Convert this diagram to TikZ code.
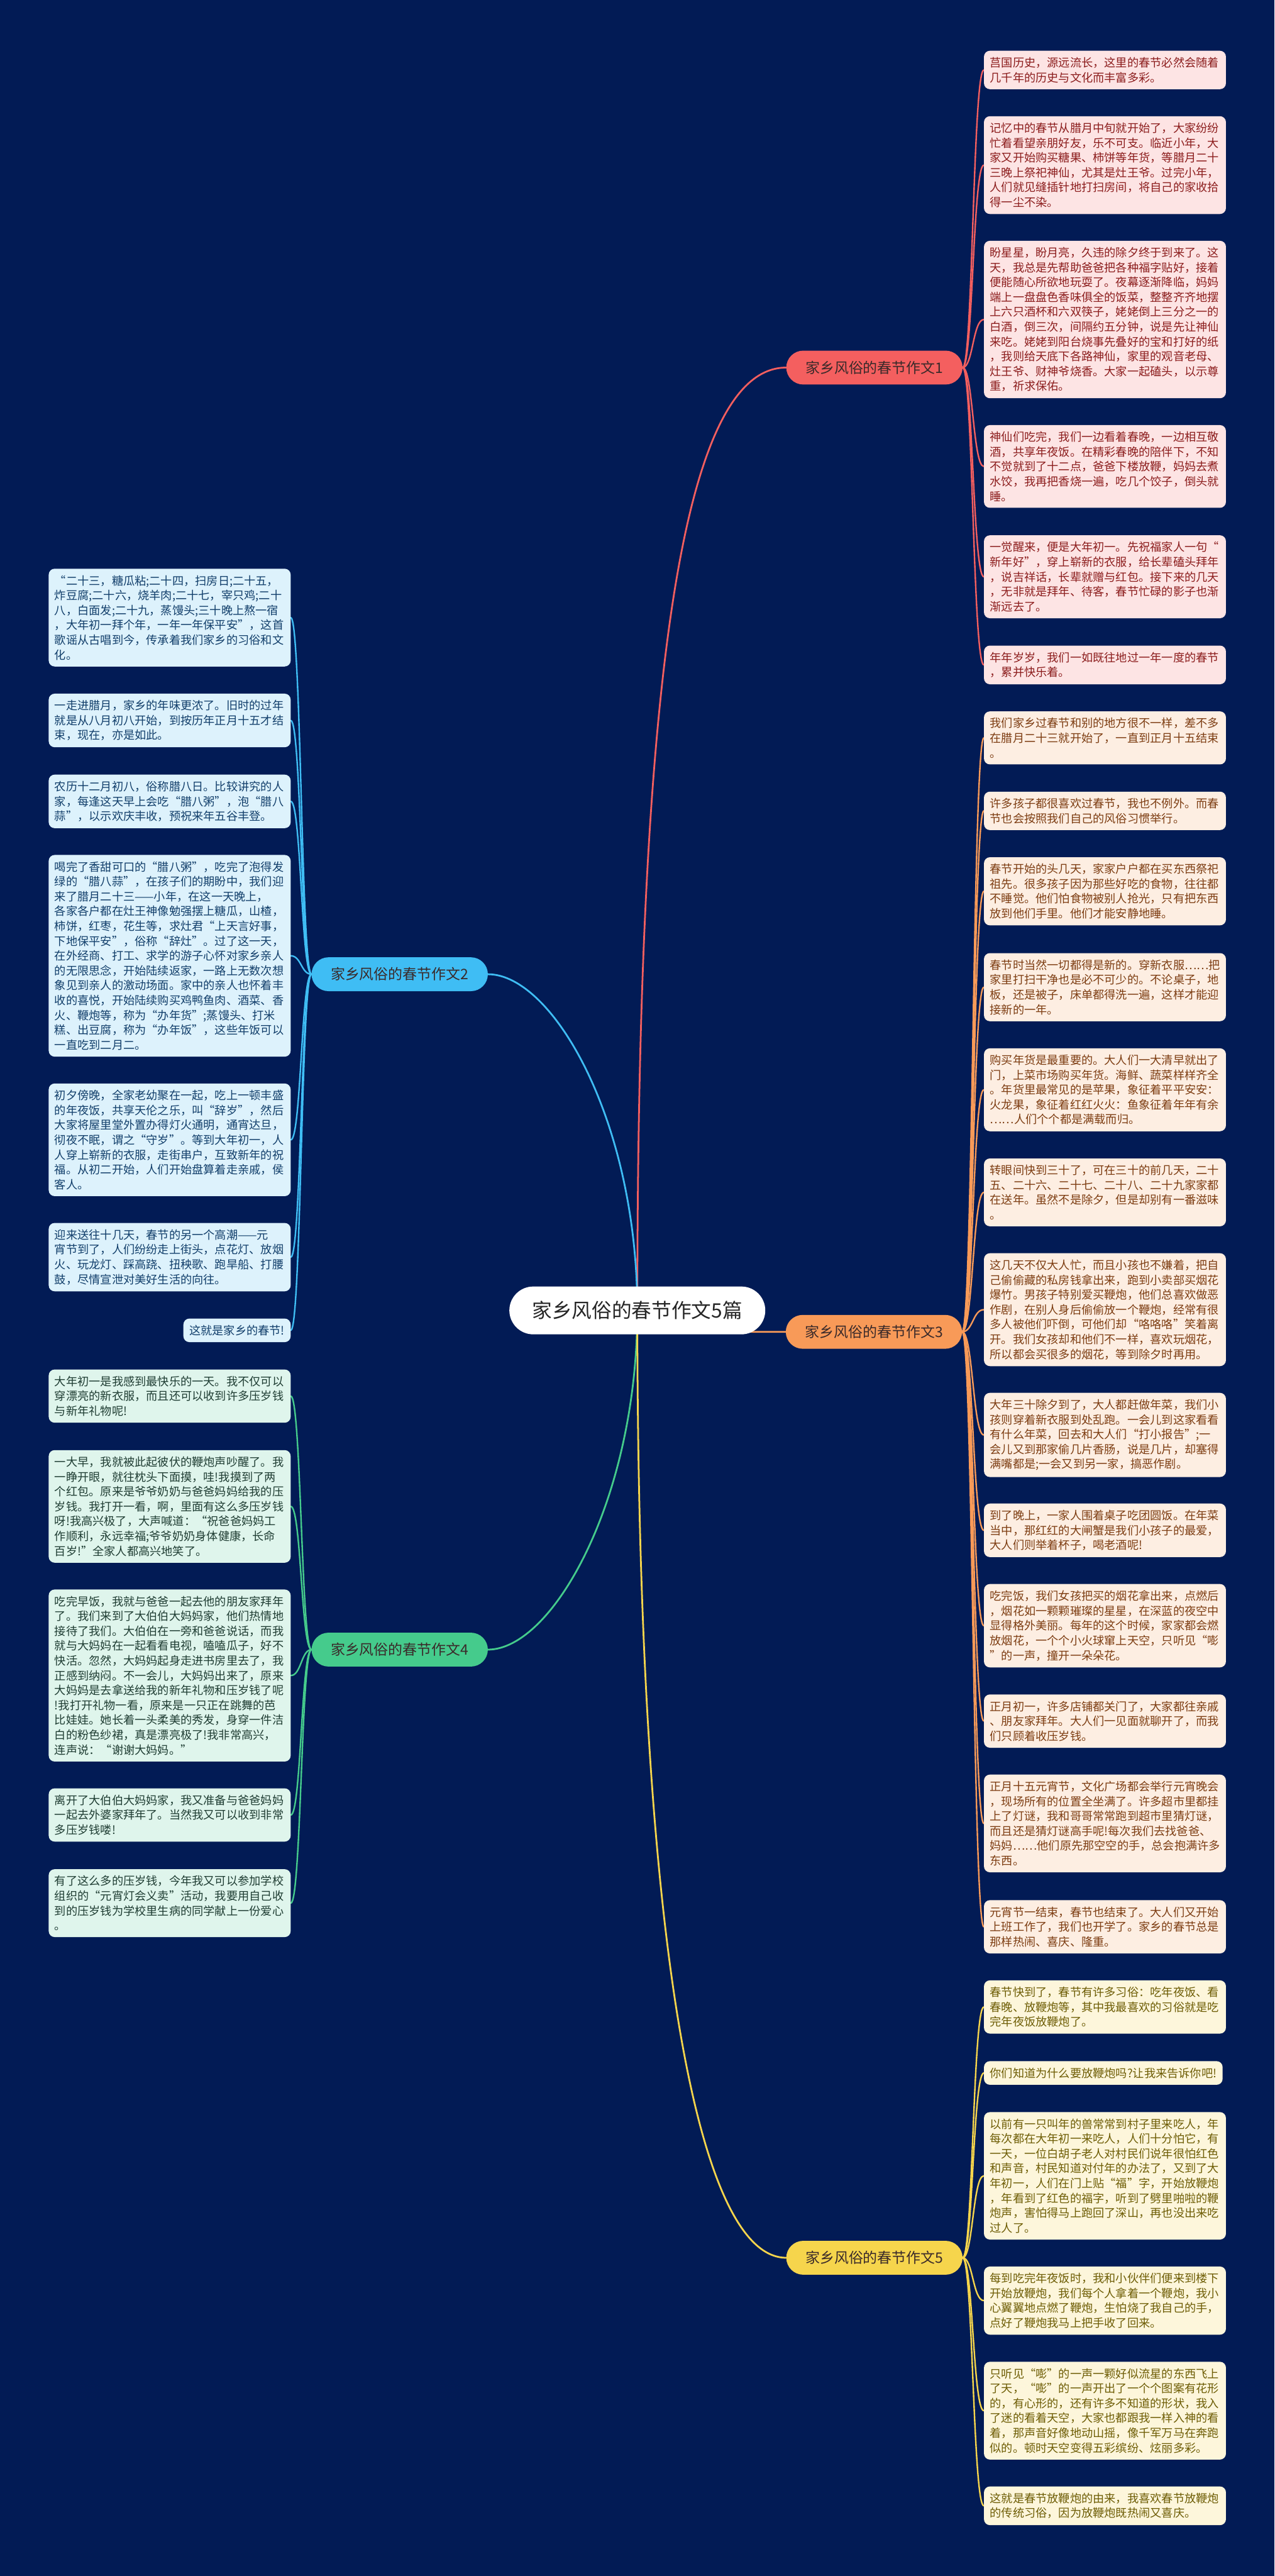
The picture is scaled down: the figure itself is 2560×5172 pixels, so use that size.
\documentclass[tikz,border=0pt]{standalone}
\usepackage{fontspec}
\setmainfont{Noto Sans CJK SC}
\usepackage{tikz}
\usetikzlibrary{positioning}
\pgfdeclarelayer{bg}
\pgfdeclarelayer{edges}
\pgfsetlayers{bg,edges,main}
\definecolor{bgnavy}{HTML}{021B55}
\definecolor{mapred}{HTML}{F45F5F}
\definecolor{mapblue}{HTML}{3FBDF4}
\definecolor{maporange}{HTML}{F89A58}
\definecolor{mapgreen}{HTML}{45CB8C}
\definecolor{mapyellow}{HTML}{F6D54C}
\definecolor{leafred}{HTML}{FDE4E4}
\definecolor{leafblue}{HTML}{DDF2FC}
\definecolor{leaforange}{HTML}{FDEEE2}
\definecolor{leafgreen}{HTML}{DFF5EC}
\definecolor{leafyellow}{HTML}{FDF6DB}
\definecolor{inkred}{HTML}{8C1D1D}
\definecolor{inkblue}{HTML}{123F6B}
\definecolor{inkorange}{HTML}{7D3D12}
\definecolor{inkgreen}{HTML}{1F3D33}
\definecolor{inkyellow}{HTML}{6E5D05}
\definecolor{inktopic}{HTML}{3A2A2A}
\tikzset{%
	root/.style={
		fill=white,
		rounded corners=48pt,
		minimum width=514pt,
		minimum height=96pt,
		text=black!85,
		font=\fontsize{40}{46}\selectfont
	},
	topic/.style={
		rounded corners=34pt,
		minimum width=354pt,
		minimum height=68pt,
		text=inktopic,
		font=\fontsize{29}{34}\selectfont
	},
	topic-red/.style={ fill=mapred },
	topic-blue/.style={ fill=mapblue },
	topic-orange/.style={ fill=maporange },
	topic-green/.style={ fill=mapgreen },
	topic-yellow/.style={ fill=mapyellow },
	leaf/.style={
		rounded corners=12pt,
		text width=462pt,
		align=left,
		inner xsep=12pt,
		inner ysep=13pt,
		font=\fontsize{23}{29.8}\selectfont
	},
	leaf-red/.style={ fill=leafred, text=inkred },
	leaf-blue/.style={ fill=leafblue, text=inkblue },
	leaf-orange/.style={ fill=leaforange, text=inkorange },
	leaf-green/.style={ fill=leafgreen, text=inkgreen },
	leaf-yellow/.style={ fill=leafyellow, text=inkyellow },
	link/.style={ line width=3.5pt, line cap=round },
	twig/.style={ line width=3pt, line cap=round },
}
\begin{document}
\begin{tikzpicture}[x=1pt, y=-1pt]
\begin{pgfonlayer}{bg}
\fill[bgnavy] (0,0) rectangle (2560,5172);
\end{pgfonlayer}

% root and topics
\node[root] (root) at (1280,2631) {家乡风俗的春节作文5篇};
\node[topic, topic-red, anchor=west] (topic1) at (1579,738) {家乡风俗的春节作文1};
\node[topic, topic-blue, anchor=east] (topic2) at (980,1956) {家乡风俗的春节作文2};
\node[topic, topic-orange, anchor=west] (topic3) at (1578,2674) {家乡风俗的春节作文3};
\node[topic, topic-green, anchor=east] (topic4) at (980,3312) {家乡风俗的春节作文4};
\node[topic, topic-yellow, anchor=west] (topic5) at (1579,4533) {家乡风俗的春节作文5};

% essay 1
\node[leaf, leaf-red, anchor=west] (essay1-1) at (1976,140.5) {莒国历史，源远流长，这里的春节必然会随着\\几千年的历史与文化而丰富多彩。};
\node[leaf, leaf-red, anchor=west] (essay1-2) at (1976,331.5) {记忆中的春节从腊月中旬就开始了，大家纷纷\\忙着看望亲朋好友，乐不可支。临近小年，大\\家又开始购买糖果、柿饼等年货，等腊月二十\\三晚上祭祀神仙，尤其是灶王爷。过完小年，\\人们就见缝插针地打扫房间，将自己的家收拾\\得一尘不染。};
\node[leaf, leaf-red, anchor=west] (essay1-3) at (1976,641.5) {盼星星，盼月亮，久违的除夕终于到来了。这\\天，我总是先帮助爸爸把各种福字贴好，接着\\便能随心所欲地玩耍了。夜幕逐渐降临，妈妈\\端上一盘盘色香味俱全的饭菜，整整齐齐地摆\\上六只酒杯和六双筷子，姥姥倒上三分之一的\\白酒，倒三次，间隔约五分钟，说是先让神仙\\来吃。姥姥到阳台烧事先叠好的宝和打好的纸\\，我则给天底下各路神仙，家里的观音老母、\\灶王爷、财神爷烧香。大家一起磕头，以示尊\\重，祈求保佑。};
\node[leaf, leaf-red, anchor=west] (essay1-4) at (1976,936.5) {神仙们吃完，我们一边看着春晚，一边相互敬\\酒，共享年夜饭。在精彩春晚的陪伴下，不知\\不觉就到了十二点，爸爸下楼放鞭，妈妈去煮\\水饺，我再把香烧一遍，吃几个饺子，倒头就\\睡。};
\node[leaf, leaf-red, anchor=west] (essay1-5) at (1976,1158) {一觉醒来，便是大年初一。先祝福家人一句“\\新年好”，穿上崭新的衣服，给长辈磕头拜年\\，说吉祥话，长辈就赠与红包。接下来的几天\\，无非就是拜年、待客，春节忙碌的影子也渐\\渐远去了。};
\node[leaf, leaf-red, anchor=west] (essay1-6) at (1976,1335) {年年岁岁，我们一如既往地过一年一度的春节\\，累并快乐着。};

% essay 2
\node[leaf, leaf-blue, anchor=east] (essay2-1) at (584,1240) {“二十三，糖瓜粘;二十四，扫房日;二十五，\\炸豆腐;二十六，烧羊肉;二十七，宰只鸡;二十\\八，白面发;二十九，蒸馒头;三十晚上熬一宿\\，大年初一拜个年，一年一年保平安”，这首\\歌谣从古唱到今，传承着我们家乡的习俗和文\\化。};
\node[leaf, leaf-blue, anchor=east] (essay2-2) at (584,1446.5) {一走进腊月，家乡的年味更浓了。旧时的过年\\就是从八月初八开始，到按历年正月十五才结\\束，现在，亦是如此。};
\node[leaf, leaf-blue, anchor=east] (essay2-3) at (584,1609) {农历十二月初八，俗称腊八日。比较讲究的人\\家，每逢这天早上会吃“腊八粥”，泡“腊八\\蒜”，以示欢庆丰收，预祝来年五谷丰登。};
\node[leaf, leaf-blue, anchor=east] (essay2-4) at (584,1919) {喝完了香甜可口的“腊八粥”，吃完了泡得发\\绿的“腊八蒜”，在孩子们的期盼中，我们迎\\来了腊月二十三——小年，在这一天晚上，\\各家各户都在灶王神像勉强摆上糖瓜，山楂，\\柿饼，红枣，花生等，求灶君“上天言好事，\\下地保平安”，俗称“辞灶”。过了这一天，\\在外经商、打工、求学的游子心怀对家乡亲人\\的无限思念，开始陆续返家，一路上无数次想\\象见到亲人的激动场面。家中的亲人也怀着丰\\收的喜悦，开始陆续购买鸡鸭鱼肉、酒菜、香\\火、鞭炮等，称为“办年货”;蒸馒头、打米\\糕、出豆腐，称为“办年饭”，这些年饭可以\\一直吃到二月二。};
\node[leaf, leaf-blue, anchor=east] (essay2-5) at (584,2288.5) {初夕傍晚，全家老幼聚在一起，吃上一顿丰盛\\的年夜饭，共享天伦之乐，叫“辞岁”，然后\\大家将屋里堂外置办得灯火通明，通宵达旦，\\彻夜不眠，谓之“守岁”。等到大年初一，人\\人穿上崭新的衣服，走街串户，互致新年的祝\\福。从初二开始，人们开始盘算着走亲戚，侯\\客人。};
\node[leaf, leaf-blue, anchor=east] (essay2-6) at (584,2524) {迎来送往十几天，春节的另一个高潮——元\\宵节到了，人们纷纷走上街头，点花灯、放烟\\火、玩龙灯、踩高跷、扭秧歌、跑旱船、打腰\\鼓，尽情宣泄对美好生活的向往。};
\node[leaf, leaf-blue, text width=, anchor=east] (essay2-7) at (584,2671) {这就是家乡的春节!};

% essay 3
\node[leaf, leaf-orange, anchor=west] (essay3-1) at (1976,1481.5) {我们家乡过春节和别的地方很不一样，差不多\\在腊月二十三就开始了，一直到正月十五结束\\。};
\node[leaf, leaf-orange, anchor=west] (essay3-2) at (1976,1628) {许多孩子都很喜欢过春节，我也不例外。而春\\节也会按照我们自己的风俗习惯举行。};
\node[leaf, leaf-orange, anchor=west] (essay3-3) at (1976,1789.5) {春节开始的头几天，家家户户都在买东西祭祀\\祖先。很多孩子因为那些好吃的食物，往往都\\不睡觉。他们怕食物被别人抢光，只有把东西\\放到他们手里。他们才能安静地睡。};
\node[leaf, leaf-orange, anchor=west] (essay3-4) at (1976,1982) {春节时当然一切都得是新的。穿新衣服……把\\家里打扫干净也是必不可少的。不论桌子，地\\板，还是被子，床单都得洗一遍，这样才能迎\\接新的一年。};
\node[leaf, leaf-orange, anchor=west] (essay3-5) at (1976,2188) {购买年货是最重要的。大人们一大清早就出了\\门，上菜市场购买年货。海鲜、蔬菜样样齐全\\。年货里最常见的是苹果，象征着平平安安：\\火龙果，象征着红红火火：鱼象征着年年有余\\……人们个个都是满载而归。};
\node[leaf, leaf-orange, anchor=west] (essay3-6) at (1976,2394) {转眼间快到三十了，可在三十的前几天，二十\\五、二十六、二十七、二十八、二十九家家都\\在送年。虽然不是除夕，但是却别有一番滋味\\。};
\node[leaf, leaf-orange, anchor=west] (essay3-7) at (1976,2629.5) {这几天不仅大人忙，而且小孩也不嫌着，把自\\己偷偷藏的私房钱拿出来，跑到小卖部买烟花\\爆竹。男孩子特别爱买鞭炮，他们总喜欢做恶\\作剧，在别人身后偷偷放一个鞭炮，经常有很\\多人被他们吓倒，可他们却“咯咯咯”笑着离\\开。我们女孩却和他们不一样，喜欢玩烟花，\\所以都会买很多的烟花，等到除夕时再用。};
\node[leaf, leaf-orange, anchor=west] (essay3-8) at (1976,2881) {大年三十除夕到了，大人都赶做年菜，我们小\\孩则穿着新衣服到处乱跑。一会儿到这家看看\\有什么年菜，回去和大人们“打小报告”;一\\会儿又到那家偷几片香肠，说是几片，却塞得\\满嘴都是;一会又到另一家，搞恶作剧。};
\node[leaf, leaf-orange, anchor=west] (essay3-9) at (1976,3072.5) {到了晚上，一家人围着桌子吃团圆饭。在年菜\\当中，那红红的大闸蟹是我们小孩子的最爱，\\大人们则举着杯子，喝老酒呢!};
\node[leaf, leaf-orange, anchor=west] (essay3-10) at (1976,3264) {吃完饭，我们女孩把买的烟花拿出来，点燃后\\，烟花如一颗颗璀璨的星星，在深蓝的夜空中\\显得格外美丽。每年的这个时候，家家都会燃\\放烟花，一个个小火球窜上天空，只听见“嘭\\”的一声，撞开一朵朵花。};
\node[leaf, leaf-orange, anchor=west] (essay3-11) at (1976,3455.5) {正月初一，许多店铺都关门了，大家都往亲戚\\、朋友家拜年。大人们一见面就聊开了，而我\\们只顾着收压岁钱。};
\node[leaf, leaf-orange, anchor=west] (essay3-12) at (1976,3661) {正月十五元宵节，文化广场都会举行元宵晚会\\，现场所有的位置全坐满了。许多超市里都挂\\上了灯谜，我和哥哥常常跑到超市里猜灯谜，\\而且还是猜灯谜高手呢!每次我们去找爸爸、\\妈妈……他们原先那空空的手，总会抱满许多\\东西。};
\node[leaf, leaf-orange, anchor=west] (essay3-13) at (1976,3868.5) {元宵节一结束，春节也结束了。大人们又开始\\上班工作了，我们也开学了。家乡的春节总是\\那样热闹、喜庆、隆重。};

% essay 4
\node[leaf, leaf-green, anchor=east] (essay4-1) at (584,2803) {大年初一是我感到最快乐的一天。我不仅可以\\穿漂亮的新衣服，而且还可以收到许多压岁钱\\与新年礼物呢!};
\node[leaf, leaf-green, anchor=east] (essay4-2) at (584,3024.5) {一大早，我就被此起彼伏的鞭炮声吵醒了。我\\一睁开眼，就往枕头下面摸，哇!我摸到了两\\个红包。原来是爷爷奶奶与爸爸妈妈给我的压\\岁钱。我打开一看，啊，里面有这么多压岁钱\\呀!我高兴极了，大声喊道：“祝爸爸妈妈工\\作顺利，永远幸福;爷爷奶奶身体健康，长命\\百岁!”全家人都高兴地笑了。};
\node[leaf, leaf-green, anchor=east] (essay4-3) at (584,3364) {吃完早饭，我就与爸爸一起去他的朋友家拜年\\了。我们来到了大伯伯大妈妈家，他们热情地\\接待了我们。大伯伯在一旁和爸爸说话，而我\\就与大妈妈在一起看看电视，嗑嗑瓜子，好不\\快活。忽然，大妈妈起身走进书房里去了，我\\正感到纳闷。不一会儿，大妈妈出来了，原来\\大妈妈是去拿送给我的新年礼物和压岁钱了呢\\!我打开礼物一看，原来是一只正在跳舞的芭\\比娃娃。她长着一头柔美的秀发，身穿一件洁\\白的粉色纱裙，真是漂亮极了!我非常高兴，\\连声说：“谢谢大妈妈。”};
\node[leaf, leaf-green, anchor=east] (essay4-4) at (584,3644) {离开了大伯伯大妈妈家，我又准备与爸爸妈妈\\一起去外婆家拜年了。当然我又可以收到非常\\多压岁钱喽!};
\node[leaf, leaf-green, anchor=east] (essay4-5) at (584,3821) {有了这么多的压岁钱，今年我又可以参加学校\\组织的“元宵灯会义卖”活动，我要用自己收\\到的压岁钱为学校里生病的同学献上一份爱心\\。};

% essay 5
\node[leaf, leaf-yellow, anchor=west] (essay5-1) at (1976,4029.5) {春节快到了，春节有许多习俗：吃年夜饭、看\\春晚、放鞭炮等，其中我最喜欢的习俗就是吃\\完年夜饭放鞭炮了。};
\node[leaf, leaf-yellow, text width=, anchor=west] (essay5-2) at (1976,4162) {你们知道为什么要放鞭炮吗?让我来告诉你吧!};
\node[leaf, leaf-yellow, anchor=west] (essay5-3) at (1976,4368.5) {以前有一只叫年的兽常常到村子里来吃人，年\\每次都在大年初一来吃人，人们十分怕它，有\\一天，一位白胡子老人对村民们说年很怕红色\\和声音，村民知道对付年的办法了，又到了大\\年初一，人们在门上贴“福”字，开始放鞭炮\\，年看到了红色的福字，听到了劈里啪啦的鞭\\炮声，害怕得马上跑回了深山，再也没出来吃\\过人了。};
\node[leaf, leaf-yellow, anchor=west] (essay5-4) at (1976,4619) {每到吃完年夜饭时，我和小伙伴们便来到楼下\\开始放鞭炮，我们每个人拿着一个鞭炮，我小\\心翼翼地点燃了鞭炮，生怕烧了我自己的手，\\点好了鞭炮我马上把手收了回来。};
\node[leaf, leaf-yellow, anchor=west] (essay5-5) at (1976,4840) {只听见“嘭”的一声一颗好似流星的东西飞上\\了天，“嘭”的一声开出了一个个图案有花形\\的，有心形的，还有许多不知道的形状，我入\\了迷的看着天空，大家也都跟我一样入神的看\\着，那声音好像地动山摇，像千军万马在奔跑\\似的。顿时天空变得五彩缤纷、炫丽多彩。};
\node[leaf, leaf-yellow, anchor=west] (essay5-6) at (1976,5031) {这就是春节放鞭炮的由来，我喜欢春节放鞭炮\\的传统习俗，因为放鞭炮既热闹又喜庆。};

% connections
\coordinate (spine-r) at (1954,0);
\coordinate (spine-l) at (605,0);
\begin{pgfonlayer}{edges}
\draw[link, mapred] (root.center) .. controls (1280,1300) and (1380,738) .. (topic1.west);
\draw[link, mapblue] (root.center) .. controls (1280,2250) and (1110,1956) .. (topic2.east);
\draw[link, maporange] (root.center) .. controls (1330,2674) and (1400,2674) .. (topic3.west);
\draw[link, mapgreen] (root.center) .. controls (1280,3010) and (1110,3312) .. (topic4.east);
\draw[link, mapyellow] (root.center) .. controls (1280,3900) and (1400,4533) .. (topic5.west);

\foreach \i in {1,...,6}
	\draw[twig, mapred] (topic1.east) .. controls (topic1.east -| spine-r) and (essay1-\i.west -| spine-r) .. (essay1-\i.west);
\foreach \i in {1,...,7}
	\draw[twig, mapblue] (topic2.west) .. controls (topic2.west -| spine-l) and (essay2-\i.east -| spine-l) .. (essay2-\i.east);
\foreach \i in {1,...,13}
	\draw[twig, maporange] (topic3.east) .. controls (topic3.east -| spine-r) and (essay3-\i.west -| spine-r) .. (essay3-\i.west);
\foreach \i in {1,...,5}
	\draw[twig, mapgreen] (topic4.west) .. controls (topic4.west -| spine-l) and (essay4-\i.east -| spine-l) .. (essay4-\i.east);
\foreach \i in {1,...,6}
	\draw[twig, mapyellow] (topic5.east) .. controls (topic5.east -| spine-r) and (essay5-\i.west -| spine-r) .. (essay5-\i.west);
\end{pgfonlayer}

\end{tikzpicture}
\end{document}
